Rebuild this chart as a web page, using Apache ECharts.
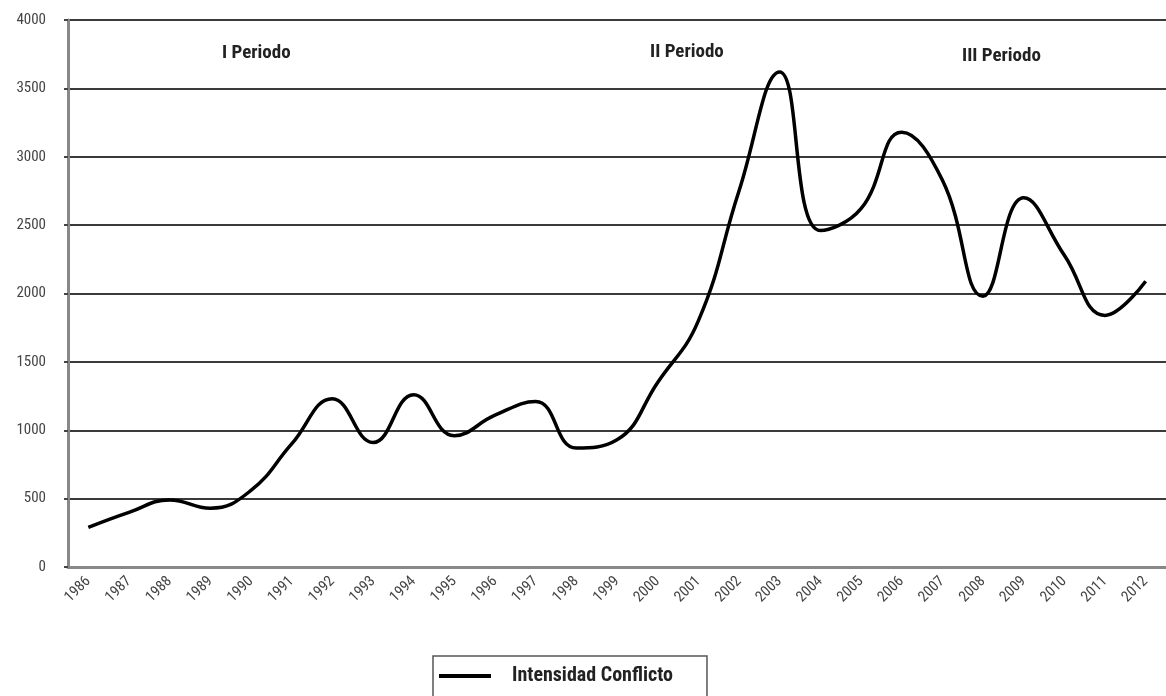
<!DOCTYPE html>
<html>
<head>
<meta charset="utf-8">
<script src="https://cdn.jsdelivr.net/npm/echarts@6/dist/echarts.min.js"></script>
<style>
  html, body { margin: 0; padding: 0; background: #fff; }
  #chart { width: 1166px; height: 696px; }
</style>
</head>
<body>
<div id="chart"></div>
<script>
// años
var years = ['1986','1987','1988','1989','1990','1991','1992','1993','1994','1995','1996','1997','1998',
  '1999','2000','2001','2002','2003','2004','2005','2006','2007','2008','2009','2010','2011','2012'];
var intensidad = [290, 400, 490, 430, 560, 900, 1230, 910, 1260, 960, 1110, 1210, 870,
  930, 1350, 1800, 2750, 3620, 2460, 2620, 3180, 2830, 1980, 2700, 2280, 1840, 2090];
var yTicks = [0, 500, 1000, 1500, 2000, 2500, 3000, 3500, 4000];
var periodos = ['I Periodo', 'II Periodo', 'III Periodo'];

var font = '"Liberation Sans Narrow", "Roboto Condensed", "Liberation Sans", sans-serif';

var chart = echarts.init(document.getElementById('chart'));
chart.setOption({
  animation: false,
  grid: { left: 68, right: 0, top: 20, bottom: 129 },
  xAxis: {
    type: 'category',
    data: years,
    boundaryGap: true,
    axisLine: { lineStyle: { color: '#888', width: 3 } },
    axisTick: { show: false },
    axisLabel: { rotate: 45, color: '#444', fontSize: 15, fontFamily: font, margin: 12 }
  },
  yAxis: {
    type: 'value',
    min: yTicks[0],
    max: yTicks[yTicks.length - 1],
    interval: 500,
    axisLine: { show: true, lineStyle: { color: '#888', width: 3 } },
    axisTick: { show: true, length: 4, lineStyle: { color: '#444', width: 2 } },
    axisLabel: { color: '#444', fontSize: 15, fontFamily: font, margin: 22, formatter: function (v) { return String(v); } },
    splitLine: { lineStyle: { color: '#3a3a3a', width: 2 } }
  },
  legend: {
    data: ['Intensidad Conflicto'],
    left: 433,
    top: 656,
    padding: [10, 34, 14, 6],
    borderColor: '#555',
    borderWidth: 1.5,
    borderRadius: 0,
    itemWidth: 52,
    itemHeight: 4,
    itemGap: 10,
    icon: 'rect',
    textStyle: { color: '#222', fontSize: 20, fontWeight: 'bold', fontFamily: font, padding: [0, 0, 0, 16] }
  },
  graphic: [
    { type: 'text', left: 222, top: 44, style: { text: periodos[0], fill: '#222', font: 'bold 19px ' + font } },
    { type: 'text', left: 650, top: 43, style: { text: periodos[1], fill: '#222', font: 'bold 19px ' + font } },
    { type: 'text', left: 962, top: 47, style: { text: periodos[2], fill: '#222', font: 'bold 19px ' + font } }
  ],
  series: [{
    name: 'Intensidad Conflicto',
    type: 'line',
    data: intensidad,
    smooth: 0.45,
    symbol: 'none',
    lineStyle: { color: '#000', width: 3.5 },
    itemStyle: { color: '#000' }
  }]
});
</script>
</body>
</html>
